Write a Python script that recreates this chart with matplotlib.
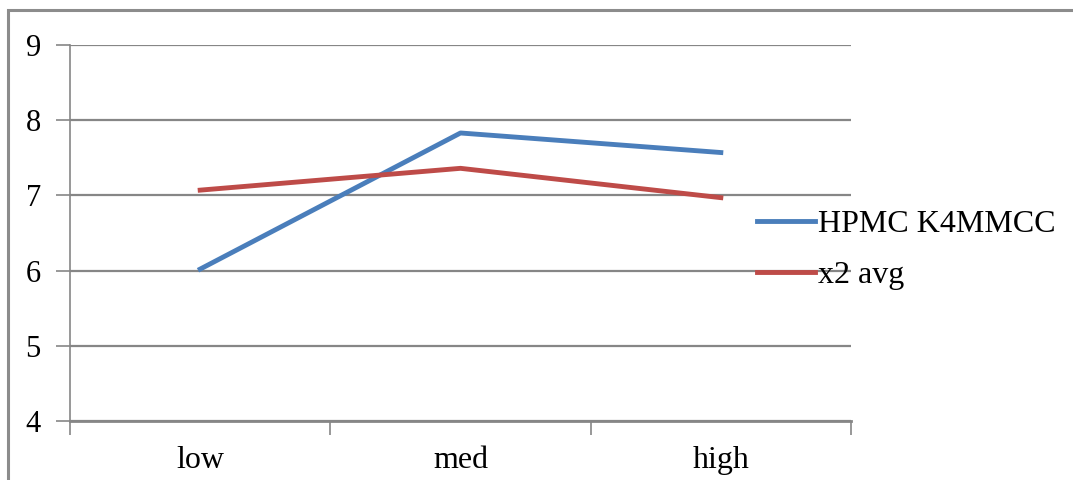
import matplotlib
matplotlib.use("Agg")
import matplotlib.pyplot as plt
from matplotlib.patches import Rectangle

plt.rcParams["font.family"] = ["Liberation Serif", "DejaVu Serif"]

categories = ["low", "med", "high"]
hpmc = [6.02, 7.83, 7.57]
x2_avg = [7.07, 7.36, 6.97]
y_ticks = [4, 5, 6, 7, 8, 9]

GRID = "#868686"
BLUE = "#4A7EBB"
RED = "#BE4B48"

fig = plt.figure(figsize=(10.73, 4.8), dpi=100)

# chart frame, cut off at right and bottom like the reference
fig.patches.append(Rectangle((8 / 1073, -0.2), 1.2, 1 - 10 / 480 + 0.2,
                             transform=fig.transFigure, fill=False,
                             edgecolor="#8c8c8c", linewidth=2.2))

ax = fig.add_axes([70 / 1073, 1 - 421 / 480, 781 / 1073, 376 / 480])

pos = list(range(len(categories)))
ax.plot(pos, hpmc, color=BLUE, linewidth=3.5, label="HPMC K4MMCC", zorder=3)
ax.plot(pos, x2_avg, color=RED, linewidth=3.5, label="x2 avg", zorder=3)

ax.set_xlim(-0.5, len(categories) - 0.5)
ax.set_ylim(min(y_ticks), max(y_ticks))
ax.set_yticks(y_ticks)
ax.yaxis.grid(True, color=GRID, linewidth=1.6)
ax.set_axisbelow(True)

ax.set_xticks([p - 0.5 for p in pos] + [pos[-1] + 0.5])
ax.set_xticklabels([])
ax.set_xticks(pos, minor=True)
ax.set_xticklabels(categories, minor=True)
ax.tick_params(axis="x", which="major", direction="out", length=10,
               width=1.2, color=GRID)
ax.tick_params(axis="x", which="minor", length=0, pad=18, labelsize=23)
ax.tick_params(axis="y", direction="out", length=10, width=1.2,
               color=GRID, labelsize=22, pad=11)

for side in ["top", "right"]:
    ax.spines[side].set_visible(False)
ax.spines["left"].set_color(GRID)
ax.spines["left"].set_linewidth(1.2)
ax.spines["bottom"].set_color(GRID)
ax.spines["bottom"].set_linewidth(2)

fig.legend(loc="center left", bbox_to_anchor=(757 / 1073, 1 - 250 / 480),
           frameon=False, fontsize=23, handlelength=1.8, handletextpad=0.1,
           labelspacing=0.68, borderpad=0, borderaxespad=0)

fig.savefig("out.png", dpi=100)
